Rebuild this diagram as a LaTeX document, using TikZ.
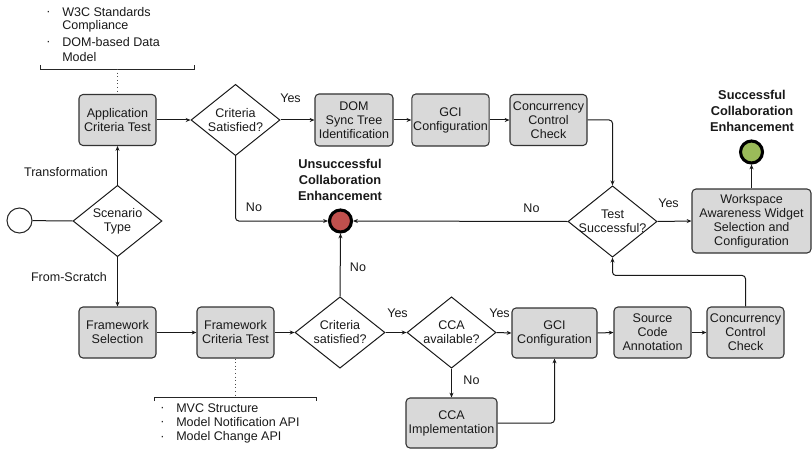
\documentclass[tikz,border=0pt]{standalone}
\usepackage{fontspec}
\setmainfont{Liberation Sans}
\usetikzlibrary{shapes.geometric,arrows.meta}
\begin{document}
\begin{tikzpicture}[x=0.75pt,y=-0.75pt,
  every node/.style={font=\fontsize{9.4}{10.5}\selectfont, text=black!90},
  box/.style={draw=black!80, fill=gray!30, rounded corners=3pt, line width=0.8pt,
    align=center, inner sep=1pt, minimum width=57.75pt, minimum height=38.25pt},
  decision/.style={draw=black!90, diamond, inner sep=0pt, line width=0.75pt,
    minimum width=66.75pt, minimum height=53.5pt},
  dtext/.style={align=center, inner sep=0pt},
  endpoint/.style={circle, draw=black, line width=2.3pt, minimum size=16.5pt, inner sep=0pt},
  flow/.style={line width=0.75pt, draw=black!90, -{Stealth[length=3.6pt,width=3pt]}, rounded corners=2.5pt},
  plain/.style={line width=0.75pt, draw=black!90},
  lbl/.style={inner sep=0pt},
  title/.style={font=\fontsize{9.6}{12}\selectfont\bfseries, align=center, inner sep=0pt},
  note/.style={anchor=west, inner sep=0pt},
  bracket/.style={line width=0.7pt, draw=black!85},
  link/.style={line width=0.7pt, draw=black!70, dotted}
]
\useasboundingbox (0,0) rectangle (812,449);

% start and scenario choice
\node[circle, draw=black!85, line width=0.75pt, fill=white, minimum size=18.75pt, inner sep=0pt] (start) at (19.5,220.5) {};
\node[decision] (scen) at (117.5,221) {};
\node[dtext] (scen-t) at (scen) {Scenario\\Type};

% transformation branch
\node[box] (app) at (117.5,120) {Application\\Criteria Test};
\node[decision] (crit1) at (235.5,120) {};
\node[dtext] (crit1-t) at (crit1) {Criteria\\Satisfied?};
\node[box, minimum width=58.5pt, minimum height=39pt] (dom) at (354,120) {DOM\\Sync Tree\\Identification};
\node[box, minimum height=39pt] (gci1) at (450.5,120) {GCI\\Configuration};
\node[box] (ccc1) at (548.5,120) {Concurrency\\Control\\Check};

% test and outcomes
\node[decision] (test) at (612.5,221.5) {};
\node[dtext] (test-t) at (test) {Test\\Successful?};
\node[box, minimum width=89.25pt, minimum height=48pt] (ws) at (751.5,221) {Workspace\\Awareness Widget\\Selection and\\Configuration};
\node[endpoint, fill={rgb,255:red,155;green,187;blue,89}] (good) at (751.5,152) {};
\node[title] (good-t) at (752,111) {Successful\\Collaboration\\Enhancement};
\node[endpoint, fill={rgb,255:red,192;green,80;blue,77}] (bad) at (340.5,221) {};
\node[title] (bad-t) at (340,180) {Unsuccessful\\Collaboration\\Enhancement};

% from-scratch branch
\node[box] (fws) at (117.5,332.5) {Framework\\Selection};
\node[box] (fct) at (235.5,332.5) {Framework\\Criteria Test};
\node[decision, minimum width=67.5pt] (crit2) at (340,332.5) {};
\node[dtext] (crit2-t) at (crit2) {Criteria\\satisfied?};
\node[decision] (cca) at (451.5,332.5) {};
\node[dtext] (cca-t) at (cca) {CCA\\available?};
\node[box, minimum width=63.75pt, minimum height=37.5pt] (gci2) at (554.5,333) {GCI\\Configuration};
\node[box] (sca) at (652.5,332.5) {Source\\Code\\Annotation};
\node[box] (ccc2) at (745.5,332.5) {Concurrency\\Control\\Check};
\node[box, minimum width=68.25pt, minimum height=37.5pt] (ccai) at (451.5,423) {CCA\\Implementation};

% connectors
\draw[plain] (start) -- (scen.west);
\draw[flow] (scen.north) -- (app.south);
\draw[flow] (scen.south) -- (fws.north);
\draw[flow] (app.east) -- (crit1.west);
\draw[flow] (crit1.east) -- (dom.west);
\draw[flow] (dom.east) -- (gci1.west);
\draw[flow] (gci1.east) -- (ccc1.west);
\draw[flow] (ccc1.east) -| (test.north);
\draw[flow] (crit1.south) |- (bad.west);
\draw[flow] (test.west) -- (bad.east);
\draw[flow] (test.east) -- (ws.west);
\draw[flow] (ws.north) -- (good.south);
\draw[flow] (fws.east) -- (fct.west);
\draw[flow] (fct.east) -- (crit2.west);
\draw[flow] (crit2.east) -- (cca.west);
\draw[flow] (cca.east) -- (gci2.west);
\draw[flow] (gci2.east) -- (sca.west);
\draw[flow] (sca.east) -- (ccc2.west);
\draw[flow] (crit2.north) -- (bad.south);
\draw[flow] (cca.south) -- (ccai.north);
\draw[flow] (ccai.east) -| (gci2.south);
\draw[flow] (ccc2.north) -- ++(0,-31) -| (test.south);

% connector labels
\node[lbl] (l-trans) at (66,172) {Transformation};
\node[lbl] (l-scratch) at (69,277) {From-Scratch};
\node[lbl] (l-yes1) at (290.5,98) {Yes};
\node[lbl] (l-no1) at (254,207) {No};
\node[lbl] (l-no2) at (531.5,208) {No};
\node[lbl] (l-yes2) at (668.5,203) {Yes};
\node[lbl] (l-no3) at (358,267) {No};
\node[lbl] (l-yes3) at (397.5,313) {Yes};
\node[lbl] (l-yes4) at (499.5,313) {Yes};
\node[lbl] (l-no4) at (471.5,380) {No};

% application criteria notes
\node[note] (a-b1) at (46,13) {·};
\node[note] (a-1) at (62,12) {W3C Standards};
\node[note] (a-1b) at (62,26.5) {Compliance};
\node[note] (a-b2) at (46,43) {·};
\node[note] (a-2) at (62,42.5) {DOM-based Data};
\node[note] (a-2b) at (62,57) {Model};
\coordinate (a-mid) at (117.5,69);
\draw[bracket] (40,65) -- (40,69) -- (194,69) -- (194,65);
\draw[link] (a-mid) -- (app.north);

% framework criteria notes
\coordinate (f-mid) at (235.5,397);
\draw[bracket] (154,401) -- (154,397) -- (316,397) -- (316,401);
\draw[link] (fct.south) -- (f-mid);
\node[note] (f-b1) at (160,409) {·};
\node[note] (f-1) at (176,408) {MVC Structure};
\node[note] (f-b2) at (160,423) {·};
\node[note] (f-2) at (176,422.5) {Model Notification API};
\node[note] (f-b3) at (160,438) {·};
\node[note] (f-3) at (176,437.5) {Model Change API};
\end{tikzpicture}
\end{document}
